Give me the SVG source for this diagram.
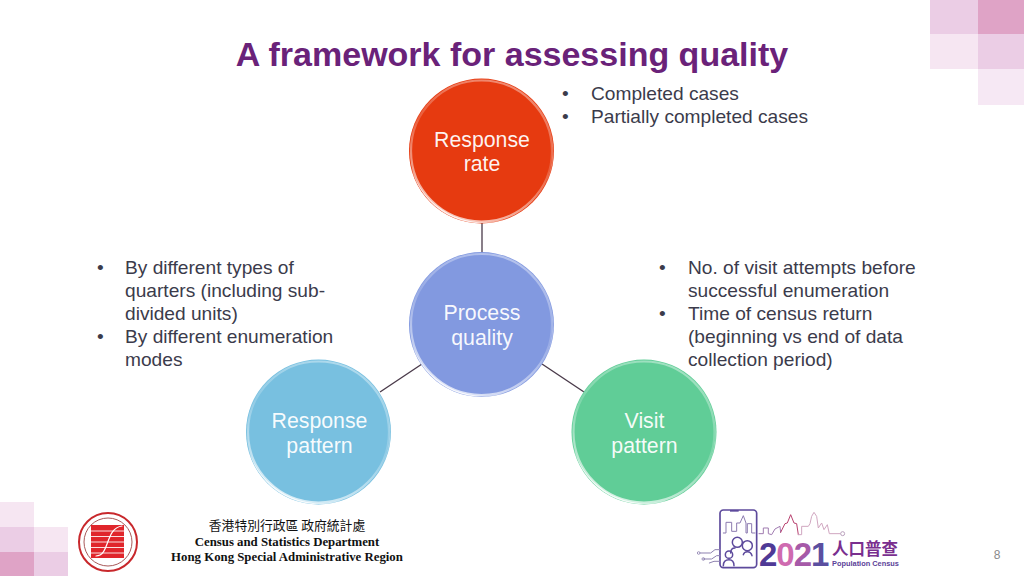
<svg xmlns="http://www.w3.org/2000/svg" width="1024" height="576" viewBox="0 0 1024 576">
<defs>
<style>
.b{font-family:"Liberation Sans",Arial,sans-serif;font-size:19.15px;fill:#3b3b4b}
.n{font-family:"Liberation Sans",Arial,sans-serif;font-size:21.3px;fill:#fff;fill-opacity:.94;text-anchor:middle}
.f{font-family:"Liberation Serif","Times New Roman",serif;font-size:12.8px;font-weight:bold;fill:#111;text-anchor:middle}
.c{stroke:#4a3a4a;stroke-width:1.3;fill:none}
.l{fill:none;stroke-linecap:round;stroke-linejoin:round}
.d{font-family:"Liberation Sans",Arial,sans-serif;font-size:33px;font-weight:bold;letter-spacing:-1px}
.p{stroke:#5d4a9c}
</style>
<linearGradient id="rimGrad" x1="0.7" y1="0" x2="0.3" y2="1">
<stop offset="0" stop-color="#fff" stop-opacity=".42"/>
<stop offset=".45" stop-color="#fff" stop-opacity=".18"/>
<stop offset="1" stop-color="#fff" stop-opacity=".75"/>
</linearGradient>
<g id="gloss">
<circle r="70.500" fill="none" stroke="url(#rimGrad)" stroke-width="2.200"/>
<path d="M-70 17A72 72 0 0 0 24 68A75 75 0 0 1-70 17Z" fill="#fff" fill-opacity=".8"/>
<path d="M70 -15A72 72 0 0 1 64 33A78 78 0 0 0 70 -15Z" fill="#fff" fill-opacity=".55"/>
</g>
</defs>
<rect width="1024" height="576" fill="#fff"/>
<g id="deco-top">
<rect x="930" y="0" width="48" height="34" fill="#ebcde5"/>
<rect x="978" y="0" width="46" height="34" fill="#dfa3c6"/>
<rect x="930" y="34" width="48" height="35" fill="#f6e6f2"/>
<rect x="978" y="34" width="46" height="35" fill="#ebcde5"/>
<rect x="978" y="69" width="46" height="36" fill="#f6e8f4"/>
</g>
<g id="deco-bottom">
<rect x="0" y="502" width="34" height="25" fill="#f6e6f2"/>
<rect x="0" y="527" width="34" height="25" fill="#ebcde5"/>
<rect x="34" y="527" width="34" height="25" fill="#f6e6f2"/>
<rect x="0" y="552" width="34" height="24" fill="#dfa3c6"/>
<rect x="34" y="552" width="34" height="24" fill="#ebcde5"/>
</g>
<text x="512" y="66" font-family="Liberation Sans,Arial,sans-serif" font-size="34" font-weight="bold" fill="#6a2279" text-anchor="middle">A framework for assessing quality</text>
<g id="connectors">
<line class="c" x1="482" y1="222" x2="482" y2="253"/>
<line class="c" x1="422" y1="364" x2="380" y2="392"/>
<line class="c" x1="542" y1="364" x2="584" y2="392"/>
</g>
<g id="node-response-rate">
<circle cx="481.500" cy="151" r="72.500" fill="#e63a10"/>
<use href="#gloss" x="481.500" y="151"/>
<text class="n" x="482" y="147">Response</text>
<text class="n" x="482" y="171">rate</text>
</g>
<g id="node-process-quality">
<circle cx="481.500" cy="324.500" r="72.500" fill="#8299e0"/>
<use href="#gloss" x="481.500" y="324.500"/>
<text class="n" x="482" y="320">Process</text>
<text class="n" x="482" y="345">quality</text>
</g>
<g id="node-response-pattern">
<circle cx="318.500" cy="432" r="72.500" fill="#78c0e0"/>
<use href="#gloss" x="318.500" y="432"/>
<text class="n" x="319.500" y="428">Response</text>
<text class="n" x="319.500" y="453">pattern</text>
</g>
<g id="node-visit-pattern">
<circle cx="644" cy="432" r="72.500" fill="#60cd97"/>
<use href="#gloss" x="644" y="432"/>
<text class="n" x="644.500" y="428">Visit</text>
<text class="n" x="644.500" y="453">pattern</text>
</g>
<g id="text-top">
<text class="b" x="562" y="100">•</text><text class="b" x="591" y="100">Completed cases</text>
<text class="b" x="562" y="123">•</text><text class="b" x="591" y="123">Partially completed cases</text>
</g>
<g id="text-left">
<text class="b" x="97" y="274">•</text><text class="b" x="125" y="274">By different types of</text>
<text class="b" x="125" y="297">quarters (including sub-</text>
<text class="b" x="125" y="320">divided units)</text>
<text class="b" x="97" y="343">•</text><text class="b" x="125" y="343">By different enumeration</text>
<text class="b" x="125" y="366">modes</text>
</g>
<g id="text-right">
<text class="b" x="659" y="274">•</text><text class="b" x="688" y="274">No. of visit attempts before</text>
<text class="b" x="688" y="297">successful enumeration</text>
<text class="b" x="659" y="320">•</text><text class="b" x="688" y="320">Time of census return</text>
<text class="b" x="688" y="343">(beginning vs end of data</text>
<text class="b" x="688" y="366">collection period)</text>
</g>
<g id="logo-csd">
<circle cx="108" cy="542" r="29" fill="#fff" stroke="#c8282c" stroke-width="2"/>
<circle cx="108" cy="542" r="24" fill="#fff" stroke="#a85a5a" stroke-width="1"/>
<rect x="91" y="525" width="33" height="33" fill="#e0252b"/>
<path d="M91 531H124M91 536.500H124M91 542H124M91 547.500H124M91 553H124" stroke="#fff" stroke-width="1" stroke-opacity=".85"/>
<path class="l" d="M96 556C110 556 105 528 122 526" stroke="#fff" stroke-width="1.200"/>
</g>
<g id="footer-text">
<text x="287" y="530" font-family="Noto Sans CJK TC,Noto Sans CJK SC,sans-serif" font-size="12.800" fill="#111" text-anchor="middle">香港特別行政區 政府統計處</text>
<text class="f" x="287" y="546">Census and Statistics Department</text>
<text class="f" x="287" y="561">Hong Kong Special Administrative Region</text>
</g>
<g id="logo-census">
<g transform="translate(690 503) scale(.3333)">
<rect x="90" y="21" width="110" height="173" rx="10" fill="none" stroke="#5d4a9c" stroke-width="5"/>
<path d="M120 21H146V26H120Z" fill="#5d4a9c"/>
<path class="l" d="M100 90H108V58H125V85H140V60H150L160 38L168 60V90H172V62H185V90H195" stroke="#8c7ab0" stroke-width="3"/>
<path class="l" d="M207 92H220V75H235V92L245 95L255 78L270 70L272 88" stroke="#a07ab0" stroke-width="3"/>
<path class="l" d="M272 88L285 62L292 60L302 35L312 60L320 62L325 95" stroke="#b8406e" stroke-width="3"/>
<path class="l" d="M325 95H335V70H355L360 62L365 40L372 28L380 40L385 75L395 60L402 80L412 65L418 92H450" stroke="#d0a6c0" stroke-width="3"/>
<circle cx="458" cy="92" r="6" fill="none" stroke="#b9a0bc" stroke-width="3"/>
<circle cx="142" cy="118" r="15" fill="none" class="p" stroke-width="4.500"/>
<circle cx="172" cy="128" r="15" fill="none" class="p" stroke-width="4.500"/>
<circle cx="117" cy="155" r="11" fill="none" class="p" stroke-width="4.500"/>
<path class="l p" d="M122 150C122 140 128 135 135 135M160 155C162 148 168 146 172 146C178 146 184 150 186 158M100 188C100 176 106 170 117 170C126 170 132 176 132 188" stroke-width="4.500"/>
<path class="l" d="M30 150H62L75 140H90M40 168H65L80 158H90M58 180L72 175H90" stroke="#8e82b0" stroke-width="3"/>
<circle cx="26" cy="150" r="4" fill="none" stroke="#8e82b0" stroke-width="2.500"/>
<circle cx="40" cy="168" r="4" fill="none" stroke="#8e82b0" stroke-width="2.500"/>
</g>
<text class="d" x="759" y="566"><tspan fill="#4f3a96">2</tspan><tspan fill="#cf6bb0">0</tspan><tspan fill="#a65aa8">2</tspan><tspan fill="#5b4fa0">1</tspan></text>
<text x="832" y="555" font-family="Noto Sans CJK TC,sans-serif" font-size="16.500" font-weight="bold" fill="#7a2f8f">人口普查</text>
<text x="832" y="566" font-family="Liberation Sans,Arial,sans-serif" font-size="7.400" font-weight="bold" fill="#5b3f98">Population Census</text>
</g>
<text x="997" y="559" font-family="Liberation Sans,Arial,sans-serif" font-size="12" fill="#8a8a8a" text-anchor="middle">8</text>
</svg>
